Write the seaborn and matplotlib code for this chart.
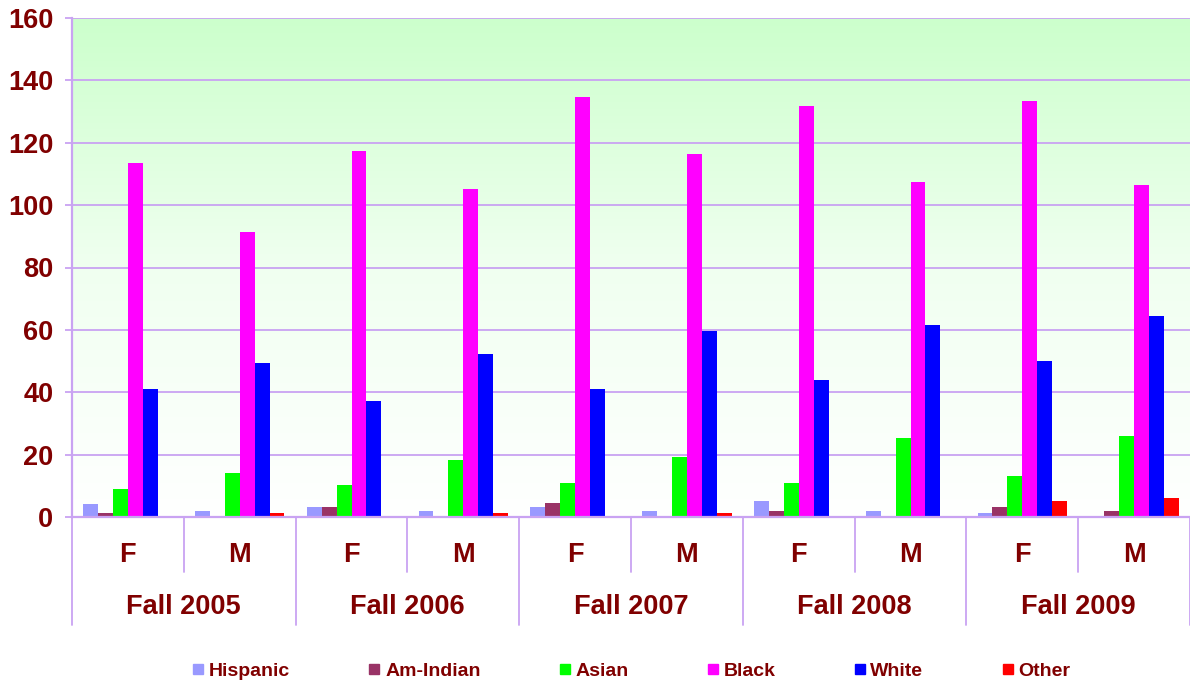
import numpy as np
import pandas as pd
import matplotlib
matplotlib.use("Agg")
import matplotlib.pyplot as plt
import seaborn as sns
from matplotlib.lines import Line2D
from matplotlib.colors import LinearSegmentedColormap

# ---- data ----
years = ["Fall 2005", "Fall 2006", "Fall 2007", "Fall 2008", "Fall 2009"]
sexes = ["F", "M"]
races = ["Hispanic", "Am-Indian", "Asian", "Black", "White", "Other"]
hispanic = [4.3, 1.9, 3.1, 1.9, 3.1, 1.9, 5.0, 1.9, 1.2, 0]
am_indian = [1.3, 0, 3.1, 0, 4.4, 0, 1.9, 0, 3.1, 1.9]
asian = [9.1, 14.1, 10.4, 18.2, 10.9, 19.2, 10.9, 25.3, 13.3, 26.0]
black = [113.6, 91.3, 117.3, 105.3, 134.8, 116.5, 131.8, 107.5, 133.5, 106.3]
white = [40.9, 49.4, 37.3, 52.4, 40.9, 59.6, 43.9, 61.5, 49.9, 64.5]
other = [0, 1.3, 0, 1.3, 0, 1.3, 0, 0, 5.0, 6.1]
yticks = [0, 20, 40, 60, 80, 100, 120, 140, 160]

colors = {"Hispanic": "#9999ff", "Am-Indian": "#993366", "Asian": "#00ff00",
          "Black": "#ff00ff", "White": "#0000ff", "Other": "#ff0000"}
TXT = "#800000"
GRID = "#c9a3f2"

cats = [f"{y} {s}" for y in years for s in sexes]
series = [hispanic, am_indian, asian, black, white, other]
rows = []
for race, vals in zip(races, series):
    for c, v in zip(cats, vals):
        rows.append({"cat": c, "race": race, "value": v})
df = pd.DataFrame(rows)

sns.set_style("white")
plt.rcParams["font.family"] = ["Liberation Sans", "DejaVu Sans"]

fig = plt.figure(figsize=(11.9, 6.8), dpi=100)
ax = fig.add_axes([72 / 1190, 1 - 517 / 680, (1190 - 72) / 1190, (517 - 18) / 680])

# gradient background
cmap = LinearSegmentedColormap.from_list("bg", ["#ffffff", "#f0fff0", "#ccffcc"])
grad = np.linspace(0, 1, 256).reshape(-1, 1)
ax.imshow(grad, extent=[-0.5, 9.5, 0, 160], origin="lower", aspect="auto",
          cmap=cmap, zorder=0)

sns.barplot(data=df, x="cat", y="value", hue="race", order=cats, hue_order=races,
            palette=colors, saturation=1, width=0.8, linewidth=0, legend=False,
            ax=ax, zorder=2)

ax.set_xlim(-0.5, 9.5)
ax.set_ylim(0, 160)
ax.set_yticks(yticks)
ax.set_yticklabels([str(t) for t in yticks], fontsize=19.5, fontweight="bold", color=TXT)
ax.set_xticks([])
ax.set_xlabel("")
ax.set_ylabel("")
ax.grid(axis="y", color=GRID, linewidth=1.3, zorder=1)
ax.set_axisbelow(True)
ax.tick_params(axis="y", length=5, width=1.3, color=GRID, pad=8.5, left=True)
for s in ["top", "right"]:
    ax.spines[s].set_visible(False)
for s in ["left", "bottom"]:
    ax.spines[s].set_color(GRID)
    ax.spines[s].set_linewidth(1.6)

# category axis decoration
tr = ax.get_xaxis_transform()
for k in range(len(cats) + 1):
    x = k - 0.5
    ybot = -0.216 if k % 2 == 0 else -0.110
    ax.plot([x, x], [0, ybot], transform=tr, color=GRID, linewidth=1.3, clip_on=False)
for i, c in enumerate(cats):
    ax.text(i, -0.076, sexes[i % 2], transform=tr, ha="center", va="center",
            fontsize=19.5, fontweight="bold", color=TXT)
for j, y in enumerate(years):
    ax.text(2 * j + 0.5, -0.18, y, transform=tr, ha="center", va="center",
            fontsize=19.5, fontweight="bold", color=TXT)

handles = [Line2D([], [], marker="s", linestyle="", markersize=7,
                  markerfacecolor=colors[r], markeredgecolor=colors[r]) for r in races]
leg = fig.legend(handles, races, loc="center", bbox_to_anchor=(0.531, 0.013), ncol=6,
                 frameon=False, handlelength=0.5, handletextpad=0.3, columnspacing=4.08,
                 prop={"size": 14, "weight": "bold"})
for t in leg.get_texts():
    t.set_color(TXT)

fig.savefig("out.png", dpi=100)
